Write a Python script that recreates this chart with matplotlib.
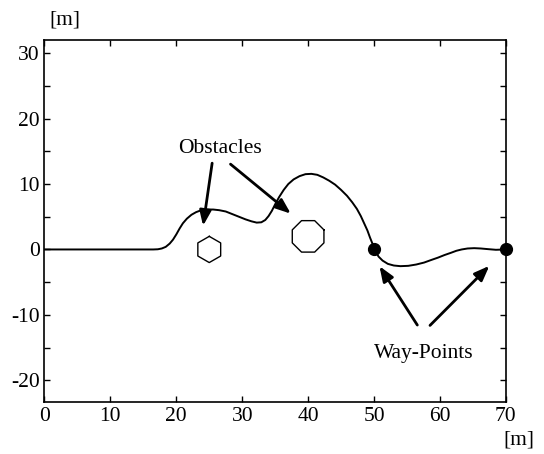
import numpy as np
import matplotlib
matplotlib.use("Agg")
import matplotlib.pyplot as plt

plt.rcParams['font.family'] = ['Liberation Serif', 'DejaVu Serif']

# path [m]
path_x = [0, 16.5, 17.2, 17.8, 18.4, 19.0, 19.5, 20.0, 20.5, 21.0, 21.6, 22.3, 23.0,
          23.8, 24.7, 25.6, 26.5, 27.5, 28.5, 29.5, 30.5, 31.4, 32.2, 32.9, 33.5,
          34.0, 34.5, 35.0, 35.6, 36.3, 37.0, 37.8, 38.7, 39.6, 40.5, 41.4, 42.3,
          43.2, 44.1, 45.0, 45.9, 46.7, 47.4, 48.0, 48.5, 49.0, 49.4, 49.8, 50.2,
          50.7, 51.3, 52.1, 53.0, 54.0, 55.2, 56.4, 57.6, 58.7, 59.7, 60.7, 61.7,
          62.5, 63.3, 64.2, 65.2, 66.2, 67.3, 68.5, 70]
path_y = [0, 0, 0.03, 0.15, 0.4, 0.9, 1.5, 2.3, 3.2, 4.0, 4.7, 5.3, 5.7,
          6.0, 6.1, 6.1, 6.0, 5.8, 5.4, 5.0, 4.6, 4.3, 4.1, 4.15, 4.5,
          5.1, 5.9, 6.9, 8.0, 9.1, 10.0, 10.7, 11.2, 11.5, 11.55, 11.4, 11.0,
          10.5, 9.9, 9.1, 8.2, 7.2, 6.2, 5.1, 4.0, 2.9, 1.8, 0.8, -0.3,
          -1.1, -1.7, -2.2, -2.45, -2.55, -2.5, -2.3, -2.0, -1.6, -1.25, -0.85, -0.5,
          -0.2, 0.0, 0.15, 0.2, 0.15, 0.05, -0.05, 0]

waypoints_x = [50, 70]
waypoints_y = [0, 0]

# obstacles: centre, radius, number of sides, rotation
obs_cx = [25, 40]
obs_cy = [0, 2]
obs_r = [2.0, 2.6]
obs_n = [6, 8]
obs_rot = [90, 22.5]

fig = plt.figure(figsize=(5.44, 4.54), dpi=100)
ax = fig.add_axes([0.0818, 0.1145, 0.848, 0.7975])

ax.plot(path_x, path_y, color='black', lw=1.4)
ax.plot(waypoints_x, waypoints_y, 'o', color='black', ms=8.5, clip_on=False, zorder=5)

for cx, cy, r, n, rot in zip(obs_cx, obs_cy, obs_r, obs_n, obs_rot):
    ang = np.deg2rad(rot + np.arange(n + 1) * 360.0 / n)
    ax.plot(cx + r * np.cos(ang), cy + r * np.sin(ang), color='black', lw=1.0)

arrow = dict(arrowstyle='-|>,head_length=0.9,head_width=0.35', color='black', lw=2)
ax.text(26.7, 15.4, 'Obstacles', ha='center', va='center', fontsize=15.5)
ax.annotate('', xy=(24.0, 3.2), xytext=(25.5, 13.6), arrowprops=arrow)
ax.annotate('', xy=(37.7, 5.2), xytext=(27.9, 13.3), arrowprops=arrow)

ax.text(57.6, -15.9, 'Way-Points', ha='center', va='center', fontsize=15.5)
ax.annotate('', xy=(50.6, -2.2), xytext=(56.8, -11.9), arrowprops=arrow)
ax.annotate('', xy=(67.8, -2.2), xytext=(58.2, -11.9), arrowprops=arrow)

ax.set_xlim(0, 70)
ax.set_ylim(-23.3, 32)
ax.set_xticks(np.arange(0, 71, 10))
ax.set_yticks(np.arange(-20, 31, 10))
ax.set_yticklabels(['-20', '-10', '0', '10', '20', '30'])
ax.set_yticks(np.arange(-20, 31, 5), minor=True)
ax.tick_params(which='both', direction='in', top=True, right=True, labelsize=15.5, width=1)
ax.tick_params(which='major', length=4)
ax.tick_params(which='minor', length=4)
for s in ax.spines.values():
    s.set_linewidth(1.2)

fig.text(65 / 544, 1 - 20 / 454, '[m]', ha='center', va='center', fontsize=15.5)
fig.text(519 / 544, 1 - 440 / 454, '[m]', ha='center', va='center', fontsize=15.5)

fig.savefig('out.png', dpi=100)
